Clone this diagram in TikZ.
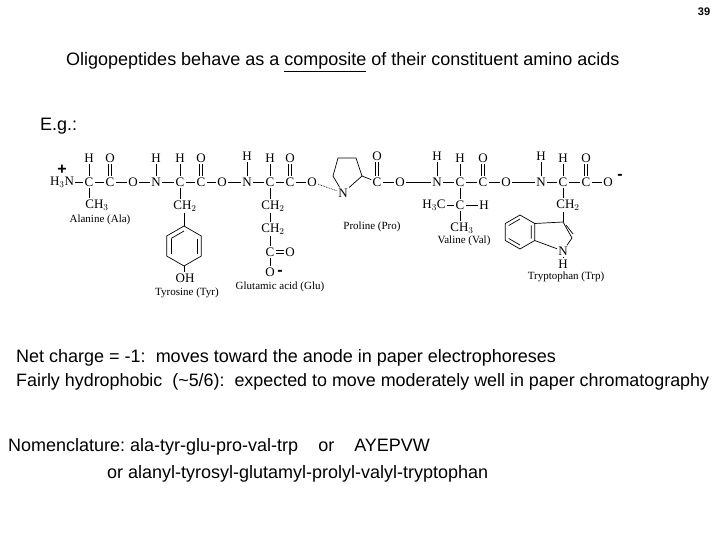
\documentclass[tikz,border=0pt]{standalone}
\usepackage{fontspec}
\setmainfont{Liberation Sans}
\newfontfamily\chem{Liberation Serif}
\usetikzlibrary{calc}
\frenchspacing
\begin{document}
\begin{tikzpicture}[x=1pt,y=-1pt,
  txt/.style={font=\fontsize{18}{21}\selectfont,anchor=west,inner sep=0},
  atm/.style={font=\chem\fontsize{13}{14}\selectfont,inner sep=1.2pt},
  lab/.style={font=\chem\fontsize{11}{12}\selectfont,inner sep=0},
  bd/.style={line width=0.7pt},
  chg/.style={font=\bfseries\fontsize{16}{16}\selectfont,inner sep=0}]
\useasboundingbox (0,0) rectangle (720,540);
\node[font=\bfseries\fontsize{11}{12}\selectfont] (pg) at (704,12) {39};
\node[txt] (title) at (66,62) {Oligopeptides behave as a \underline{composite} of their constituent amino acids};
\node[txt] (eg) at (40,126) {E.g.:};
\node[txt] (l1) at (16,358) {Net charge = -1:\ \ moves toward the anode in paper electrophoreses};
\node[txt,font=\fontsize{17.9}{21}\selectfont] (l2) at (16,382) {Fairly hydrophobic\ \ (\textasciitilde5/6):\ \ expected to move moderately well in paper chromatography};
\node[txt] (l3) at (8,447) {Nomenclature: ala-tyr-glu-pro-val-trp\ \ \ \ or\ \ \ \ AYEPVW};
\node[txt] (l4) at (107,474) {or alanyl-tyrosyl-glutamyl-prolyl-valyl-tryptophan};
% backbone
\def\Y{182}
\node[atm] (n1) at (62,\Y) {H$_3$N};
\node[atm] (c1) at (89,\Y) {C}; \node[atm] (h1) at (89,158) {H};
\node[atm] (k1) at (110,\Y) {C}; \node[atm] (o1) at (110,158) {O};
\node[atm] (e1) at (133,\Y) {O};
\node[atm] (n2) at (156,\Y) {N}; \node[atm] (hn2) at (156,158) {H};
\node[atm] (c2) at (180,\Y) {C}; \node[atm] (h2) at (180,158) {H};
\node[atm] (k2) at (201,\Y) {C}; \node[atm] (o2) at (201,158) {O};
\node[atm] (e2) at (222,\Y) {O};
\node[atm] (n3) at (247,\Y) {N}; \node[atm] (hn3) at (247,156) {H};
\node[atm] (c3) at (270,\Y) {C}; \node[atm] (h3) at (270,158) {H};
\node[atm] (k3) at (290,\Y) {C}; \node[atm] (o3) at (290,158) {O};
\node[atm] (e3) at (312,\Y) {O};
\node[atm] (pn) at (343,193) {N};
\coordinate (pa) at (333,176); \coordinate (pb) at (338,158); \coordinate (pc) at (356,158); \coordinate (pd) at (362,176);
\node[atm] (k4) at (377,182) {C}; \node[atm] (o4) at (377,156) {O};
\node[atm] (e4) at (400,\Y) {O};
\node[atm] (n5) at (437,\Y) {N}; \node[atm] (hn5) at (437,156) {H};
\node[atm] (c5) at (460,\Y) {C}; \node[atm] (h5) at (460,158) {H};
\node[atm] (k5) at (483,\Y) {C}; \node[atm] (o5) at (483,158) {O};
\node[atm] (e5) at (506,\Y) {O};
\node[atm] (n6) at (541,\Y) {N}; \node[atm] (hn6) at (541,156) {H};
\node[atm] (c6) at (563,\Y) {C}; \node[atm] (h6) at (563,158) {H};
\node[atm] (k6) at (586,\Y) {C}; \node[atm] (o6) at (586,158) {O};
\node[atm] (e6) at (608,\Y) {O};
\foreach \a/\b in {n1/c1,c1/k1,k1/e1,e1/n2,n2/c2,c2/k2,k2/e2,e2/n3,n3/c3,c3/k3,k3/e3,k4/e4,e4/n5,n5/c5,c5/k5,k5/e5,e5/n6,n6/c6,c6/k6,k6/e6,
  c1/h1,n2/hn2,c2/h2,n3/hn3,c3/h3,n5/hn5,c5/h5,n6/hn6,c6/h6}
  \draw[bd] (\a)--(\b);
\foreach \a/\b in {k1/o1,k2/o2,k3/o3,k4/o4,k5/o5,k6/o6}
  {\draw[bd] ([xshift=-1.2pt]\a.north)--([xshift=-1.2pt]\b.south);
   \draw[bd] ([xshift=1.2pt]\a.north)--([xshift=1.2pt]\b.south);}
\draw[bd,densely dotted] (e3)--(pn);
\draw[bd] (pn)--(pa)--(pb)--(pc)--(pd)--(pn);
\draw[bd] (pd)--(k4);
% charges
\node[chg] (plus) at (62,170) {+};
\node[chg] (mi1) at (620,177) {-};
\node[chg] (mi2) at (280,273) {-};
% Ala
\node[atm] (ch31) at (97,205) {CH$_3$};
\draw[bd] (c1)--(c1|-ch31.north);
\node[lab] (la) at (100,220) {Alanine (Ala)};
% Tyr
\node[atm] (ch2t) at (185,206) {CH$_2$};
\draw[bd] (c2)--(c2|-ch2t.north);
\coordinate (t0) at (184,246);
\draw[bd] (ch2t.south-|t0)--($(t0)+(-90:20)$);
\draw[bd] ($(t0)+(-90:20)$)--($(t0)+(-30:20)$)--($(t0)+(30:20)$)--($(t0)+(90:20)$)--($(t0)+(150:20)$)--($(t0)+(210:20)$)--cycle;
\draw[bd] ($(t0)+(-30:15)$)--($(t0)+(30:15)$);
\draw[bd] ($(t0)+(150:15)$)--($(t0)+(210:15)$);
\draw[bd] ($(t0)+(-90:15)$)--($(t0)+(-150:15)$);
\node[atm] (oh) at (185,278) {OH};
\draw[bd] ($(t0)+(90:20)$)--(oh.north-|t0);
\node[lab] (lt) at (187,293) {Tyrosine (Tyr)};
% Glu
\node[atm] (g1) at (273,206) {CH$_2$};
\node[atm] (g2) at (273,229) {CH$_2$};
\node[atm] (g3) at (270,252) {C};
\node[atm] (g4) at (290,252) {O};
\node[atm] (g5) at (270,272) {O};
\draw[bd] (c3)--(c3|-g1.north) (g1.south-|g3)--(g2.north-|g3) (g2.south-|g3)--(g3) (g3)--(g5);
\draw[bd] ([yshift=-1.2pt]g3.east)--([yshift=-1.2pt]g4.west) ([yshift=1.2pt]g3.east)--([yshift=1.2pt]g4.west);
\node[lab] (lg) at (280,287) {Glutamic acid (Glu)};
\node[lab] (lp) at (372,227) {Proline (Pro)};
% Val
\node[atm] (v1) at (434,205) {H$_3$C};
\node[atm] (v2) at (460,205) {C};
\node[atm] (v3) at (484,205) {H};
\node[atm] (v4) at (462,228) {CH$_3$};
\draw[bd] (c5)--(v2) (v1)--(v2)--(v3) (v2)--(v2|-v4.north);
\node[lab] (lv) at (464,241) {Valine (Val)};
% Trp
\node[atm] (w1) at (568,205) {CH$_2$};
\draw[bd] (c6)--(c6|-w1.north);
\coordinate (b0) at (520,232);
\coordinate (q1) at ($(b0)+(30:17)$); \coordinate (q2) at ($(b0)+(-30:17)$);
\draw[bd] ($(b0)+(-90:17)$)--(q2)--(q1)--($(b0)+(90:17)$)--($(b0)+(150:17)$)--($(b0)+(-150:17)$)--cycle;
\draw[bd] ($(b0)+(-150:13)$)--($(b0)+(-90:13)$) ($(b0)+(150:13)$)--($(b0)+(90:13)$) ($(b0)+(-30:13)$)--($(b0)+(30:13)$);
\coordinate (p3) at (563,222);
\node[atm] (wn) at (563,251) {N};
\node[atm] (wh) at (563,264) {H};
\draw[bd] (q2)--(p3) (p3)--(572,238)--(wn)--(q1);
\draw[bd] (566,225)--(573,234);
\draw[bd] (p3)--(w1.south-|p3);
\draw[bd] (wn)--(wh);
\node[lab] (lw) at (566,277) {Tryptophan (Trp)};
\end{tikzpicture}
\end{document}
